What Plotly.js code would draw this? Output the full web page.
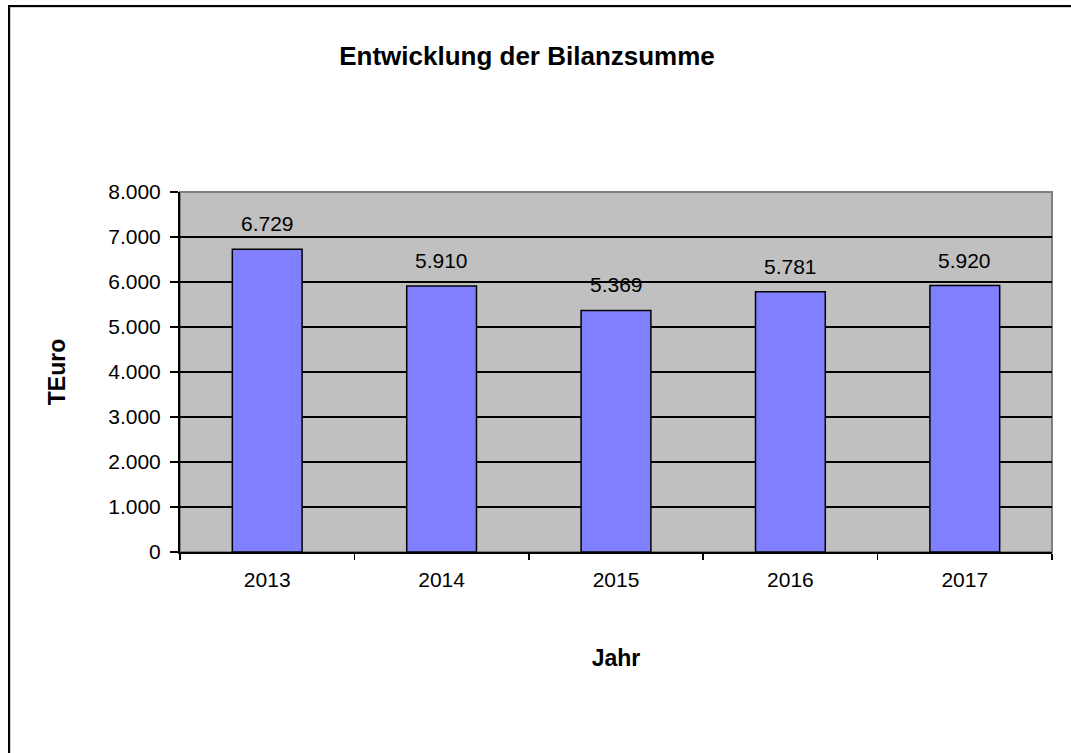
<!DOCTYPE html>
<html>
<head>
<meta charset="utf-8">
<script src="https://cdn.plot.ly/plotly-3.0.1.min.js"></script>
<style>
  html, body { margin: 0; padding: 0; background: #ffffff; }
  #wrap { position: relative; width: 1071px; height: 753px; overflow: hidden; }
  #chart { position: absolute; left: 0; top: 0; width: 1071px; height: 753px; }
  #frame { position: absolute; left: 8px; top: 5px; width: 1100px; height: 800px;
           border-left: 2px solid #000; border-top: 2px solid #000;
           box-shadow: inset 1px 1px 0 #d0d0d0; pointer-events: none; }
</style>
</head>
<body>
<div id="wrap">
  <div id="chart"></div>
  <div id="frame"></div>
</div>
<script>
// ---- data ----
const years = ["2013", "2014", "2015", "2016", "2017"];
const bilanzsumme = [6729, 5910, 5369, 5781, 5920];
const yTickValues = [0, 1000, 2000, 3000, 4000, 5000, 6000, 7000, 8000];

const chartTitle = "Entwicklung der Bilanzsumme";
const xTitle = "Jahr";
const yTitle = "TEuro";

// ---- helpers ----
function fmtDE(v) {
  return String(v).replace(/\B(?=(\d{3})+(?!\d))/g, ".");
}

const FONT = "Liberation Sans, Arial, Helvetica, sans-serif";

const trace = {
  type: "bar",
  x: years,
  y: bilanzsumme,
  marker: { color: "#8080FF", line: { color: "#000000", width: 1.5 } },
  hoverinfo: "none"
};

// category index positions so "2013" is not read as an index
const annotations = years.map((yr, i) => ({
  x: i,
  y: bilanzsumme[i],
  xref: "x",
  yref: "y",
  text: fmtDE(bilanzsumme[i]),
  showarrow: false,
  yanchor: "bottom",
  yshift: 12,
  font: { family: FONT, size: 21, color: "#000" }
}));

const layout = {
  width: 1071,
  height: 753,
  paper_bgcolor: "rgba(0,0,0,0)",
  plot_bgcolor: "#C0C0C0",
  margin: { l: 180, r: 19, t: 192, b: 201 },
  separators: ",.",
  bargap: 0.6,
  showlegend: false,
  font: { family: FONT, size: 21, color: "#000" },
  title: {
    text: "<b>" + chartTitle + "</b>",
    x: 527 / 1071,
    xanchor: "center",
    y: 1 - 56 / 753,
    yanchor: "middle",
    font: { family: FONT, size: 26, color: "#000" }
  },
  xaxis: {
    type: "category",
    categoryorder: "array",
    categoryarray: years,
    range: [-0.5, years.length - 0.5],
    tickson: "boundaries",
    ticks: "outside",
    ticklen: 6,
    tickwidth: 1.5,
    tickcolor: "#000",
    tickangle: 0,
    ticklabelstandoff: 8,
    showline: true,
    linecolor: "#000",
    linewidth: 2,
    showgrid: false,
    zeroline: false,
    tickfont: { family: FONT, size: 21, color: "#000" },
    title: { text: "<b>" + xTitle + "</b>", standoff: 60,
             font: { family: FONT, size: 23, color: "#000" } }
  },
  yaxis: {
    range: [0, 8000],
    tickvals: yTickValues,
    tickformat: ",",
    ticks: "outside",
    ticklen: 8,
    tickwidth: 2,
    tickcolor: "#000",
    ticklabelstandoff: 5,
    showline: true,
    linecolor: "#000",
    linewidth: 2,
    showgrid: true,
    gridcolor: "#000",
    gridwidth: 1.5,
    zeroline: false,
    tickfont: { family: FONT, size: 21, color: "#000" },
    title: { text: "<b>" + yTitle + "</b>", standoff: 36,
             font: { family: FONT, size: 23, color: "#000" } }
  },
  shapes: [
    { type: "rect", xref: "paper", yref: "paper", x0: 0, x1: 1, y0: 0, y1: 1,
      line: { color: "#808080", width: 2 }, layer: "below" }
  ],
  annotations: annotations
};

Plotly.newPlot("chart", [trace], layout, { staticPlot: true, displayModeBar: false });
</script>
</body>
</html>
